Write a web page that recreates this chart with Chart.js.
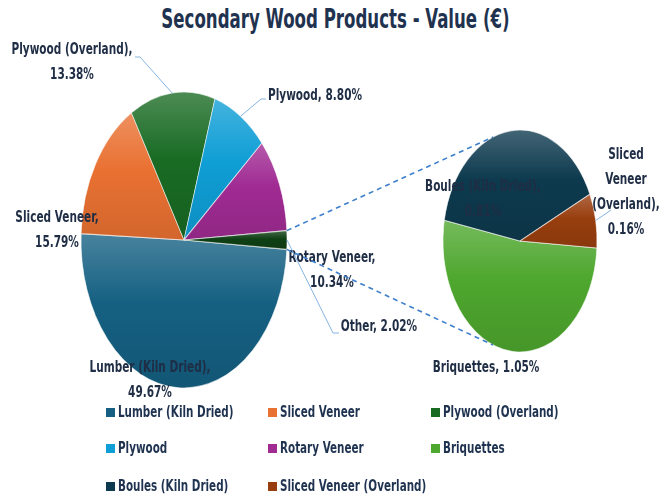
<!DOCTYPE html>
<html>
<head>
<meta charset="utf-8">
<script src="https://cdn.jsdelivr.net/npm/chart.js@4.4.1/dist/chart.umd.min.js"></script>
<style>
  body { margin: 0; background: #fff; }
  #wrap { position: relative; width: 671px; height: 497px; overflow: hidden;
          font-family: "DejaVu Sans Condensed", "Liberation Sans Narrow", Roboto, sans-serif; }
  canvas { position: absolute; left: 0; top: 0; }
  #title { position: absolute; left: 0; top: 4px; width: 671px; text-align: center;
           font-size: 26px; font-weight: bold; color: #1F3350; transform: scaleX(0.71); }
  .lg { position: absolute; font-size: 15px; font-weight: bold; color: #1F3350; white-space: nowrap;
        line-height: 18px; }
  .lg span { display: inline-block; transform: scaleX(0.77); transform-origin: left center; }
  .lg i { position: absolute; left: -12px; top: 5px; width: 9px; height: 9px; }
</style>
</head>
<body>
<div id="wrap">
  <div id="title">Secondary Wood Products - Value (€)</div>
  <canvas id="mainPie" width="671" height="497"></canvas>
  <canvas id="subPie" width="671" height="497"></canvas>
</div>
<script>
// datos del gráfico principal
const mainLabels = ["Lumber (Kiln Dried)", "Sliced Veneer", "Plywood (Overland)", "Plywood", "Rotary Veneer", "Other"];
const mainValues = [49.67, 15.79, 13.38, 8.80, 10.34, 2.02];
const mainColors = ["#156082", "#E97132", "#196B24", "#0F9ED5", "#A02B93", "#0F4015"];

// datos del segundo pie (desglose de "Other")
const subLabels = ["Briquettes", "Boules (Kiln Dried)", "Sliced Veneer (Overland)"];
const subValues = [1.05, 0.81, 0.16];
const subColors = ["#4EA72E", "#0D3A4E", "#983E0E"];

const legendNames = mainLabels.slice(0, 5).concat(subLabels);
const legendColors = mainColors.slice(0, 5).concat(subColors);

// geometria
const MAIN = { cx: 184, cy: 240, rx: 103, ry: 148, rot: 93.64 };
const SUB = { cx: 520, cy: 241, rx: 77, ry: 111, rot: 93.64 };
const W = 671, H = 497;
const txtColor = "#1F2D45";
const fontStr = 'bold 15px "DejaVu Sans Condensed", "Liberation Sans Narrow", Roboto, sans-serif';
const narrow = 0.78;

// posiciones de etiquetas
const mainLabelPos = [
  { x: 150, y: 368, lines: 2 },
  { x: 57, y: 218, lines: 2 },
  { x: 72, y: 50, lines: 2, leader: [[135, 57], [140, 57]] },
  { x: 315, y: 96, lines: 1, leader: [[266, 99], [261, 99]] },
  { x: 332, y: 258, lines: 2 },
  { x: 379, y: 327, lines: 1, leader: [[339, 333], [333, 333]] }
];
const subLabelPos = [
  { x: 486, y: 368, text: ["Briquettes, 1.05%"] },
  { x: 483, y: 187, text: ["Boules (Kiln Dried),", "0.81%"] },
  { x: 626, y: 155, text: ["Sliced", "Veneer", "(Overland),", "0.16%"], leader: [[611, 210]] }
];

function mix(hex, target, t) {
  const n = parseInt(hex.slice(1), 16);
  const c = [(n >> 16) & 255, (n >> 8) & 255, n & 255].map(v => Math.round(v + (target - v) * t));
  return "rgb(" + c.join(",") + ")";
}

// degradado por porcion, en coordenadas sin escalar
function sliceFill(geo, colors) {
  return function (c) {
    const area = c.chart.chartArea;
    const base = colors[c.dataIndex];
    if (!area) return base;
    const vals = c.dataset.data;
    const total = vals.reduce((a, b) => a + b, 0);
    let a0 = geo.rot * Math.PI / 180 - Math.PI / 2;
    for (let j = 0; j < c.dataIndex; j++) a0 += 2 * Math.PI * vals[j] / total;
    const a1 = a0 + 2 * Math.PI * vals[c.dataIndex] / total;
    let lo = 0, hi = 0;
    for (let t = 0; t <= 60; t++) {
      const s = Math.sin(a0 + (a1 - a0) * t / 60);
      lo = Math.min(lo, s); hi = Math.max(hi, s);
    }
    const cy = (area.top + area.bottom) / 2;
    const g = c.chart.ctx.createLinearGradient(0, cy + geo.rx * lo, 0, cy + geo.rx * hi);
    g.addColorStop(0, mix(base, 255, 0.22));
    g.addColorStop(0.45, base);
    g.addColorStop(1, mix(base, 0, 0.1));
    return g;
  };
}

// plugin para aplastar el circulo en elipse
const ellipsePlugin = {
  id: "ellipse",
  beforeDatasetsDraw(chart, args, opts) {
    const arc = chart.getDatasetMeta(0).data[0];
    const ctx = chart.ctx;
    ctx.save();
    ctx.translate(arc.x, arc.y);
    ctx.scale(1, opts.k);
    ctx.translate(-arc.x, -arc.y);
  },
  afterDatasetsDraw(chart) {
    chart.ctx.restore();
  }
};

function arcPoint(chart, i, angle, k) {
  const arc = chart.getDatasetMeta(0).data[i];
  const a = angle === undefined ? (arc.startAngle + arc.endAngle) / 2 : angle;
  return [arc.x + arc.outerRadius * Math.cos(a), arc.y + k * arc.outerRadius * Math.sin(a)];
}

function drawText(ctx, x, y, lines) {
  ctx.save();
  ctx.font = fontStr;
  ctx.fillStyle = txtColor;
  ctx.textAlign = "center";
  ctx.textBaseline = "middle";
  lines.forEach((l, n) => {
    ctx.save();
    ctx.translate(x, y + n * 25);
    ctx.scale(narrow, 1);
    ctx.fillText(l, 0, 0);
    ctx.restore();
  });
  ctx.restore();
}

function drawLeader(ctx, pts) {
  ctx.save();
  ctx.strokeStyle = "#86B4E0";
  ctx.lineWidth = 1;
  ctx.beginPath();
  ctx.moveTo(pts[0][0], pts[0][1]);
  pts.slice(1).forEach(p => ctx.lineTo(p[0], p[1]));
  ctx.stroke();
  ctx.restore();
}

const mainLabelPlugin = {
  id: "mainLabels",
  afterDraw(chart) {
    const ctx = chart.ctx;
    const k = MAIN.ry / MAIN.rx;
    mainLabelPos.forEach((p, i) => {
      const pct = mainValues[i].toFixed(2) + "%";
      const lines = p.lines === 2 ? [mainLabels[i] + ",", pct] : [mainLabels[i] + ", " + pct];
      if (p.leader) drawLeader(ctx, p.leader.concat([arcPoint(chart, i, undefined, k)]));
      drawText(ctx, p.x, p.y, lines);
    });
  }
};

const mainChart = new Chart(document.getElementById("mainPie"), {
  type: "pie",
  data: {
    labels: mainLabels,
    datasets: [{
      data: mainValues,
      backgroundColor: sliceFill(MAIN, mainColors),
      borderColor: "rgba(255,255,255,0.6)",
      borderWidth: 0.8,
      radius: MAIN.rx,
      hoverOffset: 0
    }]
  },
  options: {
    responsive: false,
    animation: false,
    rotation: MAIN.rot,
    layout: { padding: { left: MAIN.cx - MAIN.rx, right: W - MAIN.cx - MAIN.rx, top: MAIN.cy - MAIN.rx, bottom: H - MAIN.cy - MAIN.rx } },
    plugins: { legend: { display: false }, tooltip: { enabled: false }, ellipse: { k: MAIN.ry / MAIN.rx } },
    events: []
  },
  plugins: [ellipsePlugin, mainLabelPlugin]
});

const subLabelPlugin = {
  id: "subLabels",
  afterDraw(chart) {
    const ctx = chart.ctx;
    const k = SUB.ry / SUB.rx;
    const km = MAIN.ry / MAIN.rx;
    // lineas punteadas desde la porcion "Other"
    const other = mainChart.getDatasetMeta(0).data[5];
    const p1 = arcPoint(mainChart, 5, other.startAngle, km);
    const p2 = arcPoint(mainChart, 5, other.endAngle, km);
    const tA = 110.5 * Math.PI / 180;
    const q1 = arcPoint(chart, 0, -tA, k);
    const q2 = arcPoint(chart, 0, tA, k);
    ctx.save();
    ctx.strokeStyle = "#3E7FCC";
    ctx.lineWidth = 1.6;
    ctx.setLineDash([5, 4]);
    ctx.beginPath();
    ctx.moveTo(p1[0], p1[1]); ctx.lineTo(q1[0], q1[1]);
    ctx.moveTo(p2[0], p2[1]); ctx.lineTo(q2[0], q2[1]);
    ctx.stroke();
    ctx.restore();
    subLabelPos.forEach((p, i) => {
      if (p.leader) drawLeader(ctx, p.leader.concat([arcPoint(chart, i, undefined, k)]));
      drawText(ctx, p.x, p.y, p.text);
    });
  }
};

new Chart(document.getElementById("subPie"), {
  type: "pie",
  data: {
    labels: subLabels,
    datasets: [{
      data: subValues,
      backgroundColor: sliceFill(SUB, subColors),
      borderColor: "rgba(255,255,255,0.6)",
      borderWidth: 0.8,
      radius: SUB.rx,
      hoverOffset: 0
    }]
  },
  options: {
    responsive: false,
    animation: false,
    rotation: SUB.rot,
    layout: { padding: { left: SUB.cx - SUB.rx, right: W - SUB.cx - SUB.rx, top: SUB.cy - SUB.rx, bottom: H - SUB.cy - SUB.rx } },
    plugins: { legend: { display: false }, tooltip: { enabled: false }, ellipse: { k: SUB.ry / SUB.rx } },
    events: []
  },
  plugins: [ellipsePlugin, subLabelPlugin]
});

// leyenda
const legendCols = [118, 280, 443];
const legendRows = [403, 439, 477];
const wrap = document.getElementById("wrap");
legendNames.forEach((name, i) => {
  const d = document.createElement("div");
  d.className = "lg";
  d.style.left = legendCols[i % 3] + "px";
  d.style.top = legendRows[Math.floor(i / 3)] + "px";
  d.innerHTML = '<i style="background:' + legendColors[i] + '"></i><span>' + name + '</span>';
  wrap.appendChild(d);
});
</script>
</body>
</html>
